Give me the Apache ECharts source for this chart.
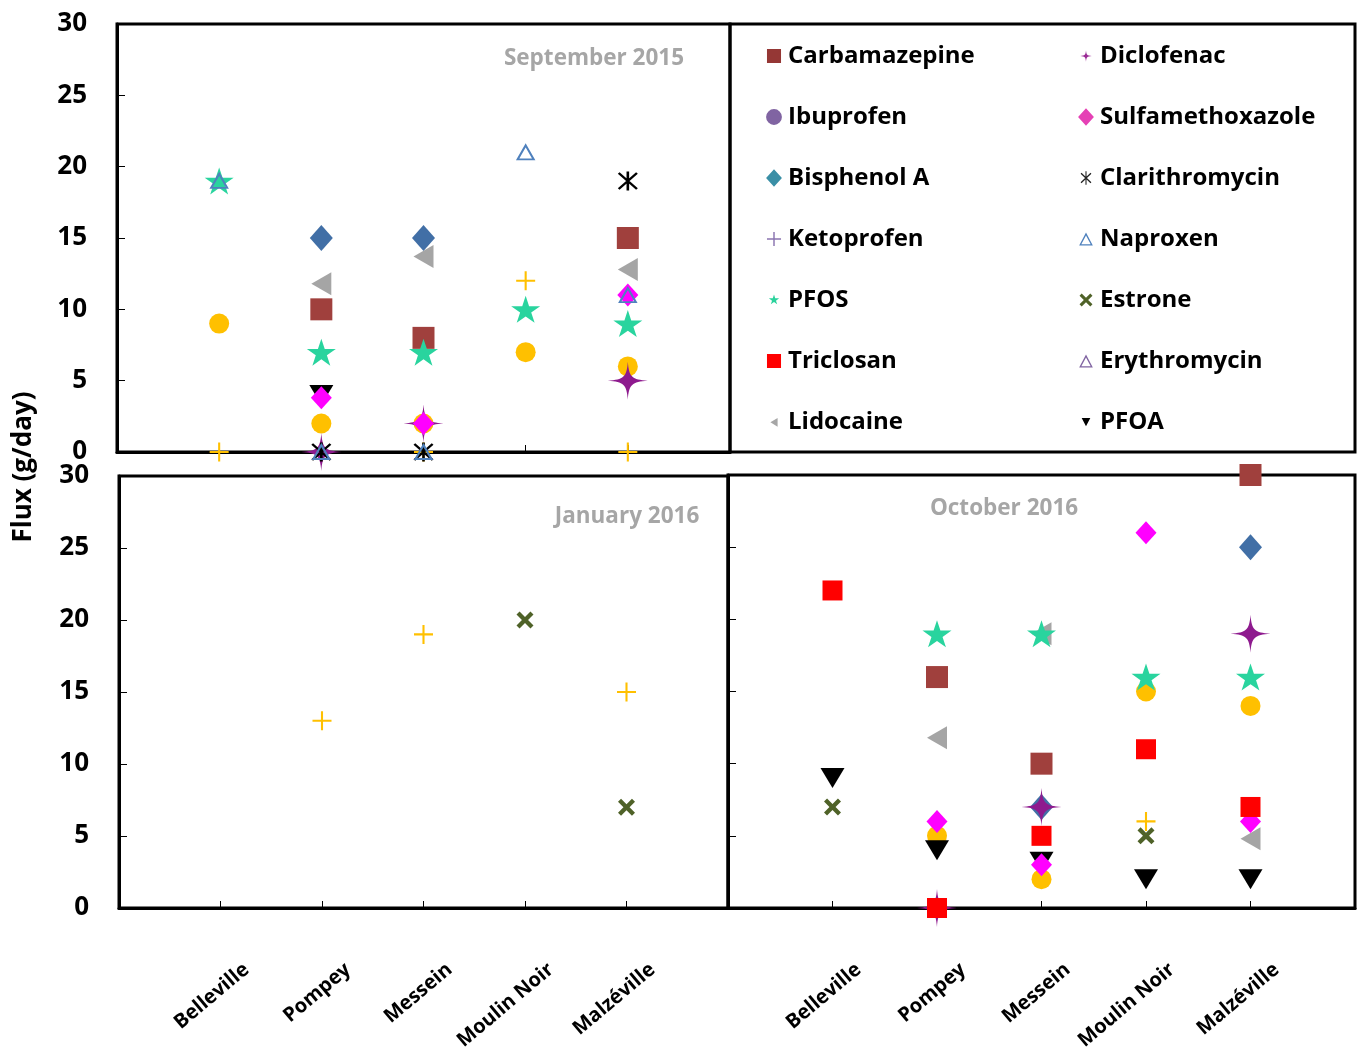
<!DOCTYPE html>
<html>
<head>
<meta charset="utf-8">
<title>Flux (g/day)</title>
<script src="https://cdn.jsdelivr.net/npm/echarts@6/dist/echarts.min.js"></script>
<style>
  html, body { margin: 0; padding: 0; background: #fff; }
  #chart { width: 1357px; height: 1051px; }
</style>
</head>
<body>
<div id="chart"></div>
<script>
// Sampling sites (x axis)
const sites = ['Belleville', 'Pompey', 'Messein', 'Moulin Noir', 'Malzéville'];
// Campaigns, one panel each
const campaigns = ['September 2015', 'January 2016', 'October 2016'];
const yTicks = [0, 5, 10, 15, 20, 25, 30];

// Flux per compound: one row per campaign, one value per site (null = not shown)
const carbamazepine    = [[null, 10, 8, null, 15],      [null, null, null, null, null], [null, 16, 10, null, 30]];
const ibuprofen        = [[9, 2, 2, 7, 6],              [null, null, null, null, null], [null, 5, 2, 15, 14]];
const bisphenolA       = [[null, 15, 15, null, null],   [null, null, null, null, null], [null, null, 7, null, 25]];
const ketoprofen       = [[0, 0, 0, 12, 0],             [null, 13, 19, null, 15],       [null, null, null, 6, null]];
const pfos             = [[19, 7, 7, 10, 9],            [null, null, null, null, null], [null, 19, 19, 16, 16]];
const triclosan        = [[null, null, null, null, null], [null, null, null, null, null], [22, 0, 5, 11, 7]];
const lidocaine        = [[null, 11.8, 13.7, null, 12.8], [null, null, null, null, null], [null, 11.8, 19, null, 4.8]];
const diclofenac       = [[null, 0, 2, null, 5],        [null, null, null, null, null], [null, 0, 7, null, 19]];
const sulfamethoxazole = [[null, 3.8, 2, null, 11],     [null, null, null, null, null], [null, 6, 3, 26, 6]];
const clarithromycin   = [[null, 0, 0, null, 19],       [null, null, null, null, null], [null, null, null, null, null]];
const naproxen         = [[19, 0, 0, 21, 11],           [null, null, null, null, null], [null, null, null, null, null]];
const estrone          = [[null, null, null, null, null], [null, null, null, 20, 7],    [7, null, null, 5, null]];
const erythromycin     = [[null, null, null, null, null], [null, null, null, null, null], [null, null, null, null, null]];
const pfoa             = [[null, 4, null, null, null],  [null, null, null, null, null], [9, 4, 3.2, 2, 2]];

// Legend order (two columns)
const legendLeft  = ['Carbamazepine', 'Ibuprofen', 'Bisphenol A', 'Ketoprofen', 'PFOS', 'Triclosan', 'Lidocaine'];
const legendRight = ['Diclofenac', 'Sulfamethoxazole', 'Clarithromycin', 'Naproxen', 'Estrone', 'Erythromycin', 'PFOA'];

// Marker shapes
const STAR5 = 'path://M50,0 L61.2,34.5 L97.6,34.5 L68.2,55.9 L79.4,90.5 L50,69.1 L20.6,90.5 L31.8,55.9 L2.4,34.5 L38.8,34.5 Z';
const STAR4 = 'path://M50,0 C53,40 60,47 100,50 C60,53 53,60 50,100 C47,60 40,53 0,50 C40,47 47,40 50,0 Z';
const PLUS = 'path://M44.5,0 H55.5 V44.5 H100 V55.5 H55.5 V100 H44.5 V55.5 H0 V44.5 H44.5 Z';
const ASTER = 'path://M44,0 H56 V100 H44 Z M4,12 L12,4 L96,88 L88,96 Z M88,4 L96,12 L12,96 L4,88 Z';
const XMARK = 'path://M0,18 L18,0 L50,32 L82,0 L100,18 L68,50 L100,82 L82,100 L50,68 L18,100 L0,82 L32,50 Z';

// Legend icons: two tiny corner specks fix the 0..100 frame so each glyph keeps its own size
const FRAME = 'M0,0 L0.01,0 L0,0.01 Z M100,100 L99.99,100 L100,99.99 Z ';
const icon = (d) => 'path://' + FRAME + d;
const ICONS = {
  'Carbamazepine': icon('M11,11 H89 V89 H11 Z'),
  'Ibuprofen': icon('M6,50 A44,44 0 1 1 94,50 A44,44 0 1 1 6,50 Z'),
  'Bisphenol A': icon('M50,2 L94,50 L50,98 L6,50 Z'),
  'Ketoprofen': icon('M46,11 H54 V46 H89 V54 H54 V89 H46 V54 H11 V46 H46 Z'),
  'PFOS': icon('M50,20 L56.7,40.7 L78.6,40.7 L60.9,53.5 L67.6,74.3 L50,61.5 L32.4,74.3 L39.1,53.5 L21.4,40.7 L43.3,40.7 Z'),
  'Triclosan': icon('M11,11 H89 V89 H11 Z'),
  'Lidocaine': icon('M30,52 L70,28 L70,76 Z'),
  'Diclofenac': icon('M50,18 C52,44 56,48 82,50 C56,52 52,56 50,82 C48,56 44,52 18,50 C44,48 48,44 50,18 Z'),
  'Sulfamethoxazole': icon('M50,2 L94,50 L50,98 L6,50 Z'),
  'Clarithromycin': icon('M47,12 H53 V88 H47 Z M20,26 L25,21 L80,74 L75,79 Z M75,21 L80,26 L25,79 L20,74 Z'),
  'Naproxen': icon('M50,14 L88,86 L12,86 Z M50,30 L24,79 L76,79 Z'),
  'Estrone': icon('M14,26 L26,14 L50,38 L74,14 L86,26 L62,50 L86,74 L74,86 L50,62 L26,86 L14,74 L38,50 Z'),
  'Erythromycin': icon('M50,14 L88,86 L12,86 Z M50,30 L24,79 L76,79 Z'),
  'PFOA': icon('M26,28 L74,28 L50,74 Z')
};
const ICON_COLORS = {
  'Carbamazepine': '#953735', 'Ibuprofen': '#8064A2', 'Bisphenol A': '#3A8FA6',
  'Ketoprofen': '#8A74B0', 'PFOS': '#2AD29C', 'Triclosan': '#FF0000', 'Lidocaine': '#A6A6A6',
  'Diclofenac': '#9B2C96', 'Sulfamethoxazole': '#E541B5', 'Clarithromycin': '#222222',
  'Naproxen': '#4F81BD', 'Estrone': '#4F6228', 'Erythromycin': '#8064A2', 'PFOA': '#000000'
};

// Drawing order (later entries sit on top)
const compounds = [
  { name: 'Carbamazepine', data: carbamazepine, symbol: 'rect', size: 22, style: { color: '#A0403D' } },
  { name: 'Ibuprofen', data: ibuprofen, symbol: 'circle', size: 20, style: { color: '#FFC000' } },
  { name: 'Bisphenol A', data: bisphenolA, symbol: 'diamond', size: [23, 26], style: { color: '#416FA6' } },
  { name: 'Ketoprofen', data: ketoprofen, symbol: PLUS, size: 19, style: { color: '#FFC000' } },
  { name: 'Lidocaine', data: lidocaine, symbol: 'triangle', size: [23, 20], rotate: 90, style: { color: '#A5A5A5' } },
  { name: 'PFOS', data: pfos, symbol: STAR5, size: [29, 27], style: { color: '#29D49E' } },
  { name: 'Diclofenac', data: diclofenac, symbol: STAR4, size: [40, 38], style: { color: '#8E1A8E' } },
  { name: 'Estrone', data: estrone, symbol: XMARK, size: 17, style: { color: '#4F6228' } },
  { name: 'Clarithromycin', data: clarithromycin, symbol: ASTER, size: [20, 19], style: { color: '#000000' } },
  { name: 'PFOA', data: pfoa, symbol: 'triangle', size: [24, 20], rotate: 180, style: { color: '#000000' } },
  { name: 'Sulfamethoxazole', data: sulfamethoxazole, symbol: 'diamond', size: [21, 23], style: { color: '#FF00FF' } },
  { name: 'Triclosan', data: triclosan, symbol: 'rect', size: 20, style: { color: '#FF0000' } },
  { name: 'Naproxen', data: naproxen, symbol: 'triangle', size: [16, 14], style: { color: 'rgba(0,0,0,0)', borderColor: '#4F81BD', borderWidth: 2 } },
  { name: 'Erythromycin', data: erythromycin, symbol: 'triangle', size: [16, 14], style: { color: 'rgba(0,0,0,0)', borderColor: '#8064A2', borderWidth: 2 } }
];

const FONT = "'Open Sans', 'Noto Sans', sans-serif";

// Fixed plot boxes; labels may hang outside them freely
const grids = [
  { left: 117, top: 24, width: 613, height: 428 },
  { left: 119, top: 476, width: 609, height: 432 },
  { left: 728, top: 475, width: 627, height: 433 }
].map(g => Object.assign(g, {
  show: true, borderColor: '#000', borderWidth: 3,
  containLabel: false, outerBoundsMode: 'none'
}));

const xAxes = grids.map((g, i) => ({
  type: 'value', gridIndex: i, min: 0, max: 6, interval: 1,
  splitLine: { show: false },
  axisLine: { lineStyle: { color: '#000', width: 3 } },
  axisTick: { inside: true, length: 7, lineStyle: { color: '#000', width: 1 } },
  axisLabel: {
    show: i > 0,
    formatter: v => sites[v - 1] || '',
    rotate: 40, align: 'right', verticalAlign: 'top', lineHeight: 81, margin: 28,
    fontFamily: FONT, fontWeight: 'bold', fontSize: 20, color: '#000'
  }
}));

const yAxes = grids.map((g, i) => ({
  type: 'value', gridIndex: i, min: yTicks[0], max: yTicks[yTicks.length - 1], interval: 5,
  splitLine: { show: false },
  axisLine: { lineStyle: { color: '#000', width: 3 } },
  axisTick: { inside: true, length: 8, lineStyle: { color: '#000', width: 1 } },
  axisLabel: {
    show: i < 2, margin: 30,
    fontFamily: FONT, fontWeight: 'bold', fontSize: 26, color: '#000'
  }
}));

const series = [];
compounds.forEach(c => {
  c.data.forEach((row, gi) => {
    series.push({
      name: c.name, type: 'scatter', xAxisIndex: gi, yAxisIndex: gi,
      symbol: c.symbol, symbolSize: c.size, symbolRotate: c.rotate || 0,
      itemStyle: Object.assign({ opacity: 1 }, c.style),
      clip: false, silent: true, emphasis: { disabled: true },
      data: row.map((v, si) => v === null ? null : [si + 1, v]).filter(p => p !== null)
    });
  });
});

const legendItems = names => names.map(n => ({
  name: n, icon: ICONS[n], itemStyle: { color: ICON_COLORS[n], borderWidth: 0 }
}));
const legendBase = {
  orient: 'vertical', top: 36, itemWidth: 18, itemHeight: 18, itemGap: 31,
  selectedMode: false,
  textStyle: { fontFamily: FONT, fontWeight: 'bold', fontSize: 24, color: '#000', lineHeight: 30 }
};

const titleStyle = { fontFamily: FONT, fontWeight: 'bold', fontSize: 22.5, fill: '#A6A6A6', textAlign: 'center', textVerticalAlign: 'middle' };

const option = {
  backgroundColor: '#fff',
  animation: false,
  grid: grids,
  xAxis: xAxes,
  yAxis: yAxes,
  legend: [
    Object.assign({ left: 760, data: legendItems(legendLeft) }, legendBase),
    Object.assign({ left: 1072, data: legendItems(legendRight) }, legendBase)
  ],
  graphic: [
    { type: 'rect', shape: { x: 730, y: 24, width: 625, height: 428 }, style: { fill: 'none', stroke: '#000', lineWidth: 3 }, z: 10 },
    { type: 'text', x: 594, y: 59, style: Object.assign({ text: campaigns[0] }, titleStyle) },
    { type: 'text', x: 627, y: 517, style: Object.assign({ text: campaigns[1] }, titleStyle) },
    { type: 'text', x: 1004, y: 509, style: Object.assign({ text: campaigns[2] }, titleStyle) },
    { type: 'text', x: 24, y: 467, rotation: Math.PI / 2,
      style: { text: 'Flux (g/day)', fontFamily: FONT, fontWeight: 'bold', fontSize: 26, fill: '#000', textAlign: 'center', textVerticalAlign: 'middle' } }
  ],
  series: series
};

const chart = echarts.init(document.getElementById('chart'), null, { renderer: 'canvas' });
chart.setOption(option);
</script>
</body>
</html>
